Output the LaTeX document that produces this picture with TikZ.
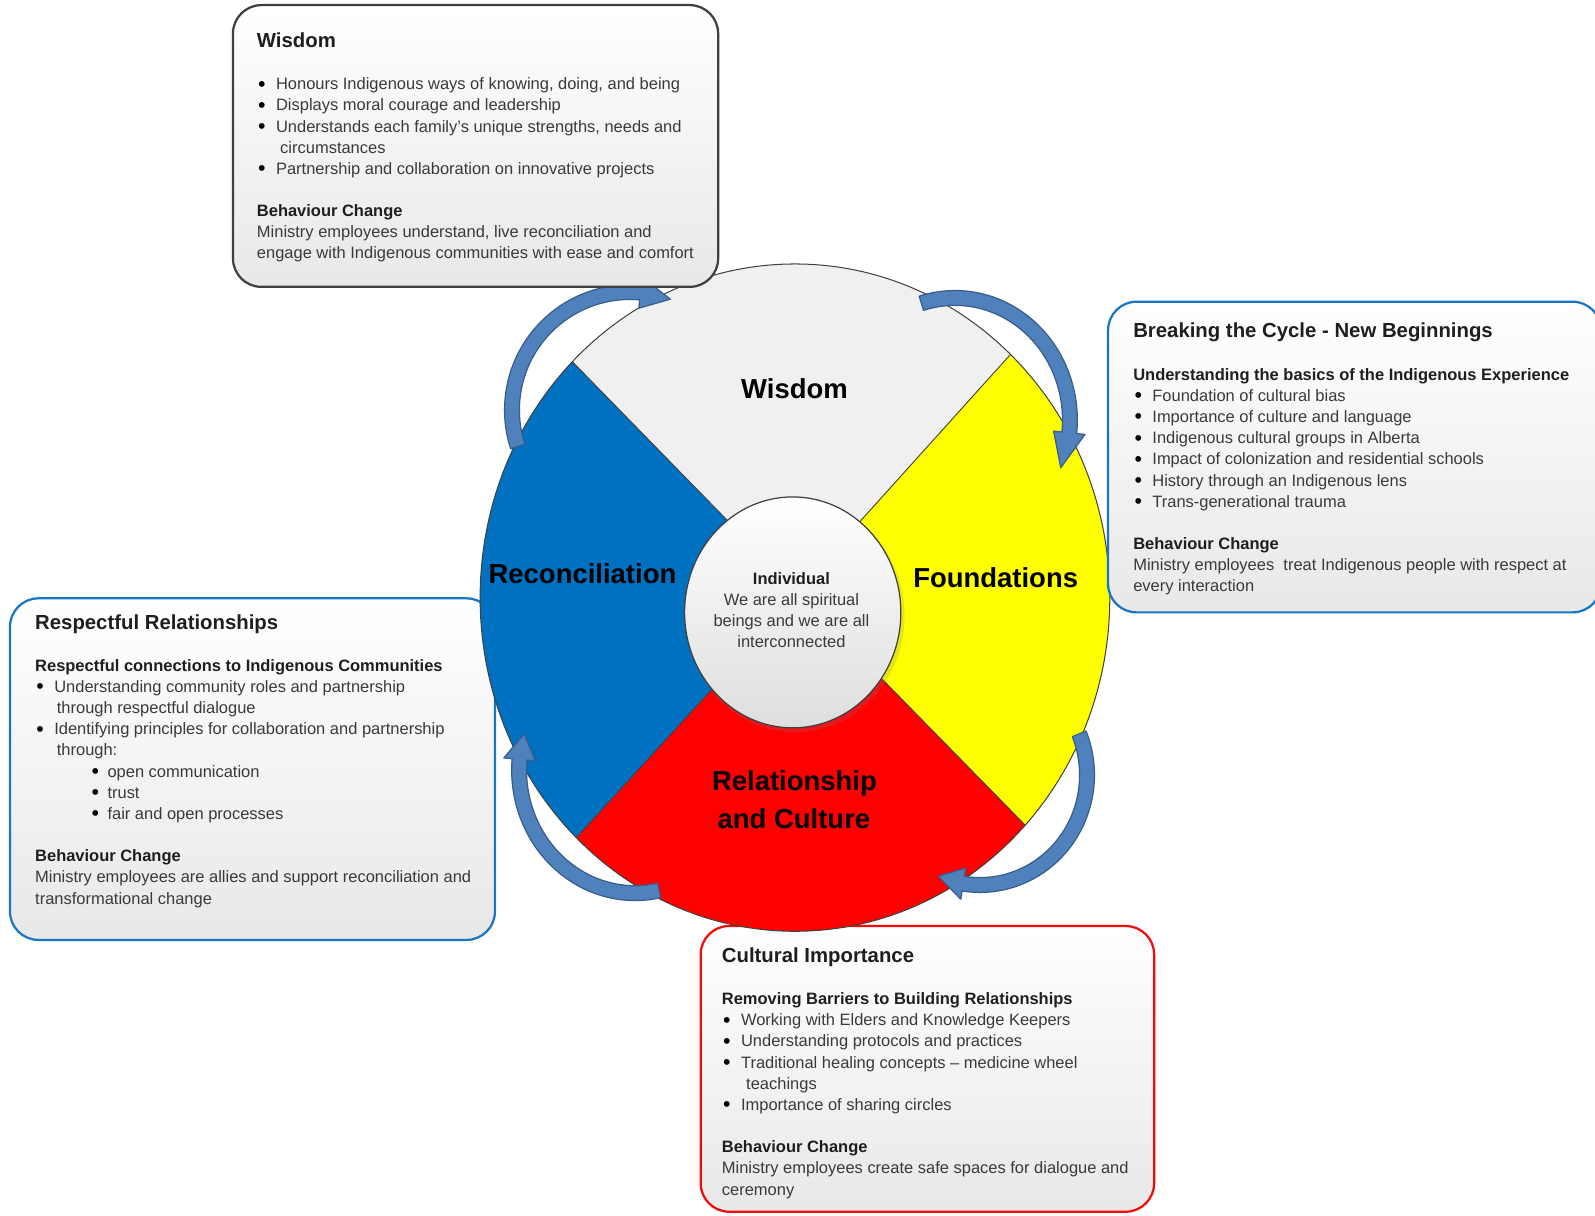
\documentclass[tikz,border=0pt]{standalone}
\usepackage{fontspec}
\setmainfont{Liberation Sans}
\usetikzlibrary{calc}
\definecolor{wblue}{HTML}{0070C0}
\definecolor{wyellow}{HTML}{FFFF00}
\definecolor{wred}{HTML}{FF0000}
\definecolor{wgray}{HTML}{F0F0F0}
\definecolor{linegray}{HTML}{404040}
\definecolor{boxblue}{HTML}{1A75C4}
\definecolor{boxred}{HTML}{F50A0A}
\definecolor{wisborder}{HTML}{404040}
\definecolor{boxbot}{HTML}{E8E8E8}
\definecolor{innerbot}{HTML}{DEDEDE}
\definecolor{arrowfill}{HTML}{4F81BD}
\definecolor{arrowline}{HTML}{385D8A}
\definecolor{bodytext}{HTML}{3A3A3A}
\definecolor{headtext}{HTML}{1E1E1E}
\newcommand{\dotglyph}{\raisebox{-1.3pt}{\color{black}\fontsize{21pt}{21pt}\selectfont•}}
\newcommand{\bl}{\makebox[18.8pt][l]{\hspace{1.2pt}\dotglyph}}
\newcommand{\sbl}{\makebox[15.1pt][l]{\hspace{-0.6pt}\dotglyph}}
\newcommand{\hd}[1]{{\bfseries\color{headtext}#1}}
\newcommand{\tstrut}{\rule{0pt}{16pt}}
\newcommand{\cvarrow}[7]{%
  \pgfmathsetmacro\axo{#3+7.3}\pgfmathsetmacro\ayo{#4+7.3}%
  \pgfmathsetmacro\axi{#3-7.3}\pgfmathsetmacro\ayi{#4-7.3}%
  \pgfmathsetmacro\hxo{#3+15.5}\pgfmathsetmacro\hyo{#4+15.5}%
  \pgfmathsetmacro\hxi{#3-15.5}\pgfmathsetmacro\hyi{#4-15.5}%
  \filldraw[arrowstyle,shift={(#1,#2)}] (#5:{\axo pt} and {\ayo pt})
    arc[start angle=#5,end angle=#6,x radius=\axo pt,y radius=\ayo pt]
    -- (#6:{\hxo pt} and {\hyo pt}) -- (#7:{#3pt} and {#4pt}) -- (#6:{\hxi pt} and {\hyi pt})
    -- (#6:{\axi pt} and {\ayi pt})
    arc[start angle=#6,end angle=#5,x radius=\axi pt,y radius=\ayi pt] -- cycle;}
\begin{document}
\begin{tikzpicture}[x=1pt,y=1pt,
  boxbase/.style={rounded corners=28pt,top color=white,bottom color=boxbot,line width=2.2pt},
  bodytxt/.style={anchor=north west,inner sep=0pt,align=left,text=bodytext,
    font=\fontsize{16.2pt}{20.8pt}\selectfont},
  titletxt/.style={anchor=base west,inner sep=0pt,text=headtext,
    font=\fontsize{20pt}{24pt}\selectfont\bfseries},
  wheellabel/.style={anchor=base,inner sep=0pt,text=black,
    font=\fontsize{27pt}{32pt}\selectfont\bfseries},
  arrowstyle/.style={fill=arrowfill,draw=arrowline,line width=1.2pt,line join=round},
  divline/.style={draw=linegray,line width=0.9pt}]
\useasboundingbox (0,0) rectangle (1568,-1194.5);
\fill[white] (0,0) rectangle (1568,-1194.5);

% ---------- boxes under the wheel ----------
\draw[boxbase,draw=boxblue] (9.8,-588.2) rectangle (486.6,-924);
\draw[boxbase,draw=boxred] (688.8,-910.3) rectangle (1134.6,-1191.2);

% ---------- wheel ----------
\coordinate (O) at (781.5,-587.5);
\coordinate (I) at (779.3,-602);
\coordinate (oUL) at ($(O)+(135:309.5pt and 328pt)$);
\coordinate (oUR) at ($(O)+(46.8:309.5pt and 328pt)$);
\coordinate (oLR) at ($(O)+(-43:309.5pt and 328pt)$);
\coordinate (oLL) at ($(O)+(-134:309.5pt and 328pt)$);
\coordinate (iUL) at ($(I)+(127.2:106.3pt and 113.5pt)$);
\coordinate (iUR) at ($(I)+(51.7:106.3pt and 113.5pt)$);
\coordinate (iLR) at ($(I)+(-34.9:106.3pt and 113.5pt)$);
\coordinate (iLL) at ($(I)+(-138.3:106.3pt and 113.5pt)$);

\fill[wgray] (oUL) arc[start angle=135,end angle=46.8,x radius=309.5pt,y radius=328pt]
  -- (iUR) arc[start angle=51.7,end angle=127.2,x radius=106.3pt,y radius=113.5pt] -- cycle;
\fill[wyellow] (oUR) arc[start angle=46.8,end angle=-43,x radius=309.5pt,y radius=328pt]
  -- (iLR) arc[start angle=-34.9,end angle=51.7,x radius=106.3pt,y radius=113.5pt] -- cycle;
\fill[wred] (oLR) arc[start angle=-43,end angle=-134,x radius=309.5pt,y radius=328pt]
  -- (iLL) arc[start angle=-138.3,end angle=-34.9,x radius=106.3pt,y radius=113.5pt] -- cycle;
\fill[wblue] (oLL) arc[start angle=-134,end angle=-225,x radius=309.5pt,y radius=328pt]
  -- (iUL) arc[start angle=127.2,end angle=221.7,x radius=106.3pt,y radius=113.5pt] -- cycle;

\draw[draw=linegray,line width=1pt] (O) ellipse[x radius=309.5pt,y radius=328pt];
\draw[divline] (oUL) -- (iUL);
\draw[divline] (oUR) -- (iUR);
\draw[divline] (oLR) -- (iLR);
\draw[divline] (oLL) -- (iLL);

\fill[gray,opacity=0.2] (I) ++(2.5,-3.5) ellipse[x radius=107.5pt,y radius=114.5pt];
\draw[draw=linegray,line width=1.2pt,top color=white,bottom color=innerbot]
  (I) ellipse[x radius=106.3pt,y radius=113.5pt];

\node[wheellabel] (lwis) at (781,-392) {Wisdom};
\node[wheellabel] (lrec) at (572.6,-573.5) {Reconciliation};
\node[wheellabel] (lfou) at (978.8,-578) {Foundations};
\node[wheellabel] (lrel) at (781,-777) {Relationship};
\node[wheellabel] (lcul) at (780.5,-814) {and Culture};
\node[anchor=north,inner sep=0pt,align=center,text=bodytext,
  font=\fontsize{16.2pt}{20.9pt}\selectfont] (ctr) at (778,-558)
  {\tstrut\hd{Individual}\\We are all spiritual\\beings and we are all\\interconnected};

% ---------- arrows ----------
\cvarrow{619.3}{-403.1}{116}{116}{198}{85}{70}
\cvarrow{938.8}{-412.9}{113}{120}{107}{-6}{-23}
\cvarrow{963.4}{-761.9}{105.2}{108.1}{22}{-99}{-113}
\cvarrow{624.3}{-757}{114}{121}{-78}{-185}{-197}

% ---------- boxes over the wheel ----------
\draw[boxbase,draw=boxblue] (1089.3,-296.6) rectangle (1574,-602);
\draw[boxbase,draw=wisborder] (229,-5) rectangle (706,-282);

% ---------- Wisdom box text ----------
\node[titletxt] (t1) at (252.4,-46.5) {Wisdom};
\node[bodytxt] (b1) at (252.4,-72) {\tstrut\bl Honours Indigenous ways of knowing, doing, and being\\
\bl Displays moral courage and leadership\\
\bl Understands each family’s unique strengths, needs and\\
\hspace*{22.9pt}circumstances\\
\bl Partnership and collaboration on innovative projects\\[20.8pt]
\hd{Behaviour Change}\\
Ministry employees understand, live reconciliation and\\
engage with Indigenous communities with ease and comfort};

% ---------- right box text ----------
\node[titletxt] (t2) at (1113.9,-331.5) {Breaking the Cycle - New Beginnings};
\node[bodytxt] (b2) at (1113.9,-357.7) {\tstrut\hd{Understanding the basics of the Indigenous Experience}\\
\bl Foundation of cultural bias\\
\bl Importance of culture and language\\
\bl Indigenous cultural groups in Alberta\\
\bl Impact of colonization and residential schools\\
\bl History through an Indigenous lens\\
\bl Trans-generational trauma\\[20.8pt]
\hd{Behaviour Change}\\
Ministry employees\ \ treat Indigenous people with respect at\\
every interaction};

% ---------- left box text ----------
\node[titletxt] (t3) at (34.4,-618.5) {Respectful Relationships};
\node[bodytxt] (b3) at (34.4,-643.7) {\tstrut\hd{Respectful connections to Indigenous Communities}\\
\bl Understanding community roles and partnership\\
\hspace*{21.3pt}through respectful dialogue\\
\bl Identifying principles for collaboration and partnership\\
\hspace*{21.3pt}through:\\
\hspace*{56pt}\sbl open communication\\
\hspace*{56pt}\sbl trust\\
\hspace*{56pt}\sbl fair and open processes\\[20.8pt]
\hd{Behaviour Change}\\
Ministry employees are allies and support reconciliation and\\
transformational change};

% ---------- bottom box text ----------
\node[titletxt] (t4) at (709.5,-946.2) {Cultural Importance};
\node[bodytxt] (b4) at (709.5,-971.4) {\tstrut\hd{Removing Barriers to Building Relationships}\\
\bl Working with Elders and Knowledge Keepers\\
\bl Understanding protocols and practices\\
\bl Traditional healing concepts – medicine wheel\\
\hspace*{23.9pt}teachings\\
\bl Importance of sharing circles\\[20.8pt]
\hd{Behaviour Change}\\
Ministry employees create safe spaces for dialogue and\\
ceremony};
\end{tikzpicture}
\end{document}
